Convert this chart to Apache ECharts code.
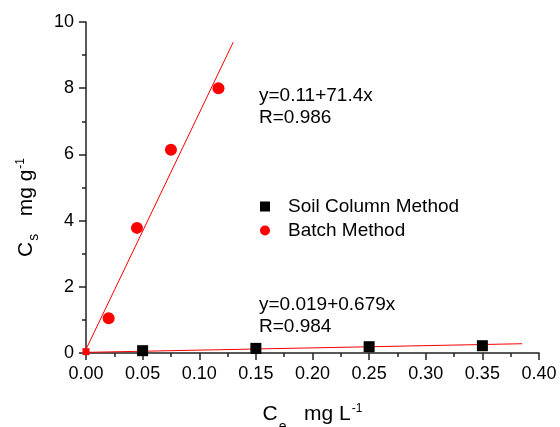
<!DOCTYPE html>
<html>
<head>
<meta charset="utf-8">
<script src="https://cdn.jsdelivr.net/npm/echarts@6/dist/echarts.min.js"></script>
<style>
html,body{margin:0;padding:0;background:#fff;}
#chart{width:560px;height:427px;}
</style>
</head>
<body>
<div id="chart"></div>
<script>
// Data
const soilX = [0.05, 0.15, 0.25, 0.35];
const soilY = [0.07, 0.14, 0.19, 0.22];
const batchX = [0, 0.02, 0.045, 0.075, 0.117];
const batchY = [0.04, 1.05, 3.78, 6.14, 8.0];
const batchFitX = [0, 0.13];
const batchFitY = [0.11, 9.39];
const soilFitX = [0, 0.385];
const soilFitY = [0.019, 0.28];
const batchEq = ['y=0.11+71.4x', 'R=0.986'];
const soilEq = ['y=0.019+0.679x', 'R=0.984'];
const seriesNames = ['Soil Column Method', 'Batch Method'];

const zip = (xs, ys) => xs.map((x, i) => [x, ys[i]]);
const FONT = '"Liberation Sans", Arial, sans-serif';

const chart = echarts.init(document.getElementById('chart'));
chart.setOption({
  animation: false,
  backgroundColor: '#fff',
  grid: { left: 86, right: 21, top: 22, bottom: 74, containLabel: false, outerBoundsMode: 'none' },
  xAxis: {
    type: 'value', min: 0, max: 0.4, interval: 0.05,
    name: '{a|C}{b|e}{a|   mg L}{c|-1}',
    nameLocation: 'middle', nameGap: 41,
    nameTextStyle: {
      rich: {
        a: { fontSize: 21, fontFamily: FONT, color: '#000' },
        b: { fontSize: 14, fontFamily: FONT, color: '#000', padding: [26, 0, 0, 1] },
        c: { fontSize: 12, fontFamily: FONT, color: '#000', padding: [0, 0, 10, 1] }
      }
    },
    axisLine: { show: true, lineStyle: { color: '#222', width: 1.5 } },
    axisTick: { show: true, inside: false, length: 7, lineStyle: { color: '#222', width: 1.5 } },
    minorTick: { show: true, splitNumber: 2, length: 4, lineStyle: { color: '#222', width: 1.5 } },
    splitLine: { show: false },
    axisLabel: { margin: 12, fontSize: 18, fontFamily: FONT, color: '#000',
      formatter: v => v.toFixed(2) }
  },
  yAxis: {
    type: 'value', min: 0, max: 10, interval: 2,
    name: '{a|C}{b|s}{a|   mg g}{c|-1}',
    nameLocation: 'middle', nameGap: 45, nameRotate: 90,
    nameTextStyle: {
      padding: [0, 40, 0, 0],
      rich: {
        a: { fontSize: 21, fontFamily: FONT, color: '#000' },
        b: { fontSize: 14, fontFamily: FONT, color: '#000', padding: [16, 0, 0, 1] },
        c: { fontSize: 12, fontFamily: FONT, color: '#000', padding: [0, 0, 10, 1] }
      }
    },
    axisLine: { show: true, lineStyle: { color: '#222', width: 1.5 } },
    axisTick: { show: true, inside: false, length: 7, lineStyle: { color: '#222', width: 1.5 } },
    minorTick: { show: true, splitNumber: 2, length: 4, lineStyle: { color: '#222', width: 1.5 } },
    splitLine: { show: false },
    axisLabel: { margin: 12, fontSize: 18, fontFamily: FONT, color: '#000' }
  },
  legend: {
    data: [
      { name: seriesNames[0], icon: 'rect', itemStyle: { color: '#000' } },
      { name: seriesNames[1], icon: 'circle', itemStyle: { color: '#ff0000' } }
    ],
    orient: 'vertical', left: 255, top: 192,
    itemWidth: 10, itemHeight: 10, itemGap: 5,
    textStyle: { fontSize: 19, fontFamily: FONT, color: '#000', lineHeight: 18, padding: [0, 0, 0, 13] }
  },
  graphic: [
    { type: 'text', left: 259, top: 85, style: { text: batchEq.join('\n'), font: '19px ' + FONT, fill: '#000', lineHeight: 22 } },
    { type: 'text', left: 259, top: 294, style: { text: soilEq.join('\n'), font: '19px ' + FONT, fill: '#000', lineHeight: 22 } }
  ],
  series: [
    { type: 'line', data: zip(batchFitX, batchFitY), showSymbol: false, silent: true, z: 1,
      lineStyle: { color: '#ff0000', width: 1 } },
    { type: 'line', data: zip(soilFitX, soilFitY), showSymbol: false, silent: true, z: 1,
      lineStyle: { color: '#ff0000', width: 1 } },
    { name: seriesNames[0], type: 'scatter', data: zip(soilX, soilY), symbol: 'rect', symbolSize: 11,
      itemStyle: { color: '#000', opacity: 1 }, z: 3 },
    { name: seriesNames[1], type: 'scatter', data: zip(batchX, batchY),
      symbol: v => (v[0] === 0 ? 'rect' : 'circle'),
      symbolSize: v => (v[0] === 0 ? 7 : 12),
      itemStyle: { color: '#ff0000', opacity: 1 }, z: 4 }
  ]
});
</script>
</body>
</html>
